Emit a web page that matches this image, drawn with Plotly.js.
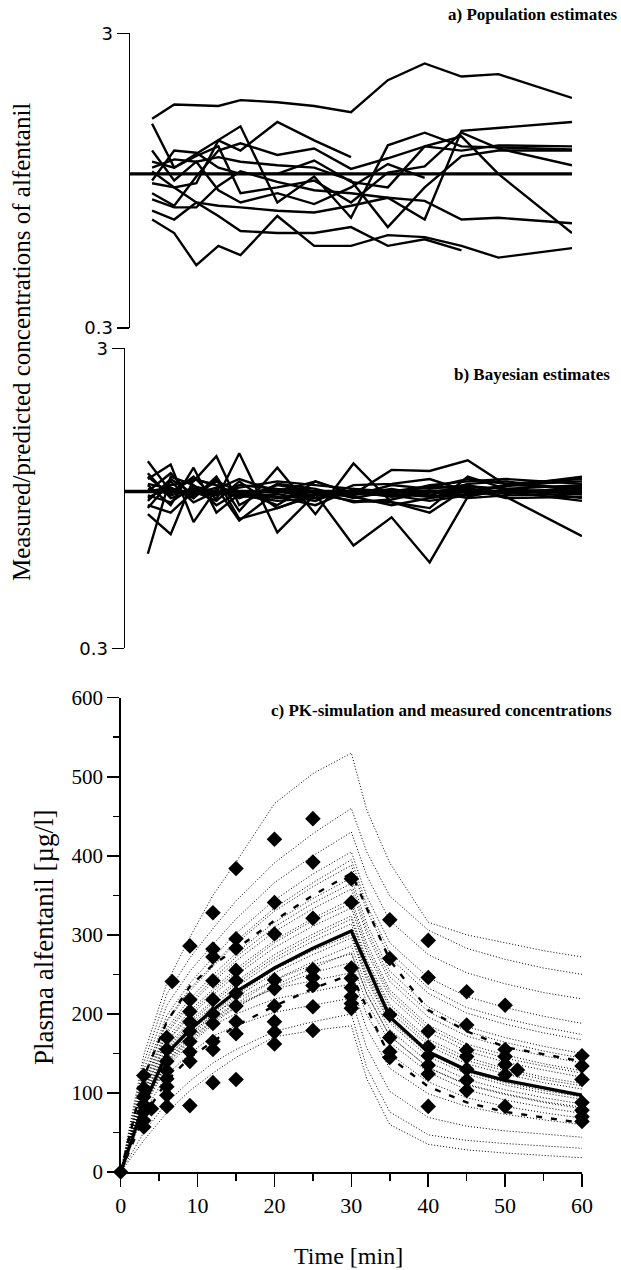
<!DOCTYPE html>
<html><head><meta charset="utf-8">
<script src="https://cdn.plot.ly/plotly-3.0.1.min.js"></script>
<style>html,body{margin:0;padding:0;background:#fff}#chart{width:621px;height:1270px}</style>
</head><body><div id="chart"></div>
<script>
const W = 621, H = 1270;

// ---------- data ----------
const sampleTimes = [3, 6, 9, 12, 15, 20, 25, 30, 35, 40, 45, 50, 60];

// a) measured / predicted (population estimates)
const popRatios = [
  [1.54,1.72,1.71,1.70,1.78,1.75,1.70,1.62,2.08,2.37,2.14,2.18,1.81],
  [0.82,0.77,0.77,0.91,1.02,0.94,0.88,0.86,0.83,0.70,1.40,1.43,1.50],
  [1.10,1.05,1.17,1.30,1.45,0.80,0.98,0.71,1.25,1.38,1.24,1.23,1.21],
  [1.02,0.90,0.93,1.30,1.20,1.50,1.30,1.14,null,null,null,null,null],
  [1.48,1.05,1.15,1.24,0.86,0.90,0.95,0.80,1.01,1.06,1.38,1.22,1.07],
  [0.95,1.20,1.18,1.05,1.00,1.00,1.11,0.94,0.90,1.24,1.34,1.00,0.63],
  [0.86,0.78,0.98,1.20,1.27,1.16,1.22,1.04,1.13,1.24,1.20,1.25,1.24],
  [1.20,0.95,1.10,0.88,0.80,0.86,0.79,0.90,1.08,0.97,null,null,null],
  [0.93,0.90,0.80,0.78,0.77,0.75,0.74,0.78,0.83,0.81,0.70,0.71,0.68],
  [0.70,0.63,0.49,0.57,0.53,0.72,0.57,0.57,0.62,0.61,0.57,0.52,0.56],
  [0.75,0.70,0.80,0.72,0.64,0.63,0.63,0.66,0.57,0.60,0.55,null,null],
  [1.05,1.12,1.10,1.14,1.10,1.07,1.05,0.95,0.66,0.90,1.15,1.20,1.20]
];

// b) measured / predicted (Bayesian estimates)
const bayesRatios = [
  [1.26,1.00,1.10,1.05,0.95,1.05,1.00,0.97,1.05,1.02,1.05,0.98,1.04],
  [0.62,1.12,1.05,0.90,1.00,0.95,0.98,0.93,0.92,0.88,1.12,1.02,0.95],
  [0.84,0.72,1.10,1.05,0.97,0.93,0.95,1.00,0.98,0.96,1.00,1.05,1.08],
  [1.10,1.23,0.79,1.02,1.10,1.00,0.95,0.98,0.97,1.00,1.02,0.99,1.00],
  [0.95,1.05,1.08,1.31,0.90,1.06,1.02,0.95,1.00,1.03,1.10,1.06,1.10],
  [1.02,0.98,1.12,0.94,1.34,0.73,0.98,1.00,0.96,0.99,1.04,1.02,1.05],
  [1.00,1.15,0.95,1.12,0.86,1.20,0.84,1.24,0.92,0.85,1.03,0.96,0.71],
  [0.90,0.85,1.00,0.93,1.08,0.88,0.98,0.66,0.82,0.58,0.96,1.02,0.98],
  [1.06,1.02,0.97,1.08,1.00,0.90,1.08,0.98,1.18,1.17,1.27,1.05,1.03],
  [0.97,0.92,1.04,1.00,0.96,0.98,0.93,1.05,1.06,1.10,1.00,1.04,1.12],
  [1.15,0.95,1.00,0.97,1.05,1.02,1.00,0.96,0.90,0.95,0.98,1.00,0.93],
  [0.88,1.08,0.92,1.00,1.03,1.08,1.05,1.02,0.98,1.05,1.08,1.10,1.06],
  [1.05,0.90,1.20,0.85,0.98,0.95,1.00,0.92,0.94,1.00,0.95,0.97,0.98],
  [0.93,1.10,0.98,1.03,0.80,1.00,1.08,0.98,1.02,0.97,1.06,1.08,1.01],
  [1.12,0.97,1.02,0.98,1.00,0.96,0.90,1.02,1.00,1.04,1.02,0.95,0.96],
  [1.00,1.03,0.95,1.10,0.81,0.88,0.97,1.00,0.97,0.93,0.97,1.00,1.02]
];
const refTimes = [0, 60];
const refRatio = [1, 1];

// c) PK simulation curves (µg/l)
const simTimes = [0,3,6,9,12,15,20,25,30,32,35,40,45,50,55,60];
const simCurves = [
  [0,148,239,297,350,392,466,504,530,458,391,316,300,290,280,272],
  [0,138,225,271,308,343,391,428,460,405,349,306,283,269,258,250],
  [0,129,211,254,288,320,366,400,430,375,318,275,252,238,227,219],
  [0,122,198,239,271,302,344,377,405,349,290,246,222,208,197,188],
  [0,118,192,232,262,292,334,366,395,338,278,233,208,194,183,174],
  [0,116,190,229,260,289,330,361,388,331,271,226,201,187,176,167],
  [0,112,182,219,249,277,316,346,372,314,254,209,184,170,159,150],
  [0,110,178,214,244,272,310,340,365,307,247,203,178,164,153,144],
  [0,107,175,211,240,267,304,333,358,301,241,196,172,158,147,138],
  [0,104,169,204,231,257,293,321,345,289,230,186,162,148,137,128],
  [0,102,165,200,228,253,290,318,340,283,226,182,158,144,134,125],
  [0,100,164,197,224,249,284,311,334,278,221,177,153,139,129,120],
  [0,97,159,191,217,241,275,301,324,269,212,168,145,131,120,112],
  [0,95,156,188,214,238,271,297,320,265,208,164,141,128,117,109],
  [0,94,154,185,210,234,267,292,314,260,203,160,137,124,113,105],
  [0,92,149,180,204,227,259,284,305,251,195,153,130,117,106,98],
  [0,90,147,178,201,224,256,280,300,247,191,150,127,113,103,95],
  [0,89,145,175,198,221,252,275,296,243,188,146,124,110,100,92],
  [0,86,140,169,192,213,243,266,286,234,180,139,117,104,94,86],
  [0,84,136,165,188,208,236,258,278,226,172,132,111,99,89,82],
  [0,88,144,174,199,218,243,262,276,225,172,132,110,98,88,80],
  [0,85,138,167,191,209,233,252,265,215,164,126,104,91,82,74],
  [0,86,141,171,197,212,232,242,252,199,149,114,94,83,75,68],
  [0,81,133,162,186,200,219,228,238,181,131,99,83,73,66,60],
  [0,75,123,150,172,185,202,211,220,157,102,69,58,52,48,44],
  [0,50,88,115,138,155,178,190,200,132,76,47,40,36,33,30],
  [0,40,75,103,125,145,171,179,185,118,60,35,28,24,21,18]
];
const meanTimes = [0,3,6,9,12,15,20,25,30,35,40,45,50,60];
const meanConc  = [0,85,150,180,205,228,258,283,305,196,152,129,116,97];
const upperConc = [0,120,190,235,262,282,318,350,378,268,205,178,158,140];
const lowerConc = [0,70,115,145,165,185,210,232,250,145,108,88,76,62];

// measured concentrations
const measTimes = [0,3,4,6,6.7,9,12,15,20,25,30,35,40,45,50,51.6,60];
const measConc = [
  [0],
  [122,106,95,85,76,65,57],
  [80],
  [170,155,140,128,118,108,97,83],
  [241],
  [286,218,203,190,178,165,152,140,84],
  [328,282,272,242,218,200,188,165,155,113],
  [384,295,283,255,242,226,210,190,175,117],
  [421,341,301,243,232,210,190,177,162],
  [447,392,321,256,246,236,209,179],
  [371,341,258,245,233,222,213,207],
  [319,270,199,170,152,145],
  [293,246,178,158,147,135,124,83],
  [228,186,154,146,130,116,103],
  [211,155,146,136,123,83],
  [129],
  [147,134,117,88,78,70,64]
];

// ---------- traces ----------
const traces = [];
traces.push({x: refTimes, y: refRatio, xaxis:'x', yaxis:'y', mode:'lines',
  line:{color:'#000', width:3.4}});
popRatios.forEach(r => traces.push({x: sampleTimes, y: r, xaxis:'x', yaxis:'y',
  mode:'lines', line:{color:'#000', width:2.4}, connectgaps:false}));

traces.push({x: refTimes, y: refRatio, xaxis:'x2', yaxis:'y2', mode:'lines',
  line:{color:'#000', width:3.4}});
bayesRatios.forEach(r => traces.push({x: sampleTimes, y: r, xaxis:'x2', yaxis:'y2',
  mode:'lines', line:{color:'#000', width:2.4}}));

simCurves.forEach(c => traces.push({x: simTimes, y: c, xaxis:'x3', yaxis:'y3',
  mode:'lines', line:{color:'#000', width:1, dash:'1px,2px'}}));
traces.push({x: meanTimes, y: upperConc, xaxis:'x3', yaxis:'y3', mode:'lines',
  line:{color:'#000', width:2.4, dash:'6px,9px'}});
traces.push({x: meanTimes, y: lowerConc, xaxis:'x3', yaxis:'y3', mode:'lines',
  line:{color:'#000', width:2.4, dash:'6px,9px'}});
traces.push({x: meanTimes, y: meanConc, xaxis:'x3', yaxis:'y3', mode:'lines',
  line:{color:'#000', width:3.4}});

const mx = [], my = [];
measTimes.forEach((t, i) => measConc[i].forEach(v => { mx.push(t); my.push(v); }));
traces.push({x: mx, y: my, xaxis:'x3', yaxis:'y3', mode:'markers', cliponaxis:false,
  marker:{symbol:'diamond', size:12, color:'#000', line:{width:0}}});

// ---------- layout ----------
const fx = px => px / W;
const fy = py => 1 - py / H;
const serif = 'Liberation Serif, Times New Roman, serif';
const sans = 'DejaVu Sans, Verdana, sans-serif';

const ratioAxis = (top, bottom, anchor) => ({
  domain:[fy(bottom), fy(top)], type:'log',
  range:[Math.log10(0.3), Math.log10(3)],
  showline:true, linecolor:'#000', linewidth:1.5, mirror:false,
  ticks:'outside', ticklen:12, tickwidth:1.5, tickcolor:'#000',
  tickvals:[0.3, 3], ticktext:['0.3','3'],
  tickfont:{family:sans, size:18, color:'#000'},
  showgrid:false, zeroline:false, anchor:anchor, fixedrange:true
});

const layout = {
  width: W, height: H, margin:{l:0, r:0, t:0, b:0},
  paper_bgcolor:'#fff', plot_bgcolor:'rgba(0,0,0,0)', showlegend:false,
  xaxis:{domain:[fx(130), fx(572)], range:[0,60], visible:false, anchor:'y'},
  yaxis: ratioAxis(33.3, 328, 'x'),
  xaxis2:{domain:[fx(125), fx(582)], range:[0,60], visible:false, anchor:'y2'},
  yaxis2: ratioAxis(348.3, 648.3, 'x2'),
  xaxis3:{domain:[fx(120.7), fx(582)], range:[0,60], anchor:'y3',
    showline:true, linecolor:'#000', linewidth:1.5,
    ticks:'outside', ticklen:13, tickwidth:1.5, tickcolor:'#000',
    tick0:0, dtick:10, showgrid:false, zeroline:false,
    minor:{dtick:5, ticks:'outside', ticklen:7, tickwidth:1.5, tickcolor:'#000', showgrid:false},
    tickfont:{family:serif, size:22, color:'#000'}},
  yaxis3:{domain:[fy(1172), fy(697.7)], range:[0,600], anchor:'x3',
    showline:true, linecolor:'#000', linewidth:1.5,
    ticks:'outside', ticklen:12, tickwidth:1.5, tickcolor:'#000',
    tick0:0, dtick:100, showgrid:false, zeroline:false,
    minor:{dtick:50, ticks:'outside', ticklen:6, tickwidth:1.5, tickcolor:'#000', showgrid:false},
    tickfont:{family:serif, size:21, color:'#000'}},
  annotations:[
    {text:'<b>a) Population estimates</b>', xref:'paper', yref:'paper',
     x:fx(619), y:fy(15), xanchor:'right', yanchor:'middle', showarrow:false,
     font:{family:serif, size:17, color:'#000'}},
    {text:'<b>b) Bayesian estimates</b>', xref:'paper', yref:'paper',
     x:fx(612), y:fy(375), xanchor:'right', yanchor:'middle', showarrow:false,
     font:{family:serif, size:17, color:'#000'}},
    {text:'<b>c) PK-simulation and measured concentrations</b>', xref:'paper', yref:'paper',
     x:fx(614), y:fy(710), xanchor:'right', yanchor:'middle', showarrow:false,
     font:{family:serif, size:17, color:'#000'}},
    {text:'Measured/predicted concentrations of alfentanil', xref:'paper', yref:'paper',
     x:fx(21), y:fy(342), xanchor:'center', yanchor:'middle', textangle:-90, showarrow:false,
     font:{family:serif, size:25, color:'#000'}},
    {text:'Plasma alfentanil [µg/l]', xref:'paper', yref:'paper',
     x:fx(44), y:fy(937), xanchor:'center', yanchor:'middle', textangle:-90, showarrow:false,
     font:{family:serif, size:27, color:'#000'}},
    {text:'Time [min]', xref:'paper', yref:'paper',
     x:fx(348), y:fy(1256), xanchor:'center', yanchor:'middle', showarrow:false,
     font:{family:serif, size:24, color:'#000'}}
  ]
};

Plotly.newPlot('chart', traces, layout, {displayModeBar:false, staticPlot:true});
</script>
</body></html>
